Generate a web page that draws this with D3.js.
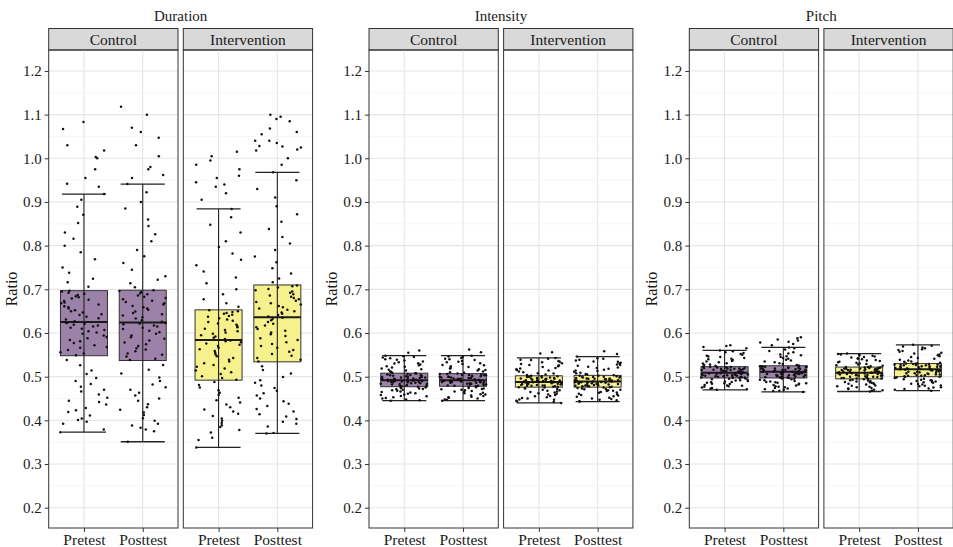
<!DOCTYPE html>
<html>
<head>
<meta charset="utf-8">
<script src="https://cdn.jsdelivr.net/npm/d3@7"></script>
<style>
  body { margin: 0; background: #fff; }
  svg text { font-family: "Liberation Serif", "Times New Roman", "DejaVu Serif", serif !important; fill: #1a1a1a; }
</style>
</head>
<body>
<div class="chart"></div>
<script>
var measures = ["Duration", "Intensity", "Pitch"];
var groups = ["Control", "Intervention"];
var times = ["Pretest", "Posttest"];
var yTicks = [0.2, 0.3, 0.4, 0.5, 0.6, 0.7, 0.8, 0.9, 1.0, 1.1, 1.2];
var yMinor = [0.25, 0.35, 0.45, 0.55, 0.65, 0.75, 0.85, 0.95, 1.05, 1.15];

// box stats, order: measure > group > time
var lowWhisker  = [.373, .351, .338, .370, .445, .445, .440, .443, .470, .465, .466, .468];
var q1          = [.548, .537, .492, .534, .477, .478, .476, .476, .497, .497, .495, .500];
var median      = [.625, .624, .584, .636, .492, .492, .488, .489, .509, .511, .509, .517];
var q3          = [.697, .698, .653, .710, .508, .507, .502, .503, .523, .525, .522, .530];
var highWhisker = [.918, .941, .884, .968, .548, .548, .543, .546, .560, .567, .553, .573];

// observed ratios (jittered points)
var durCtrlPre = [.373,.379,.392,.397,.401,.404,.411,.419,.423,.428,.436,.442,.445,.452,.459,.466,.47,.477,.483,.49,.497,.506,.514,.526,.538,
  .549,.553,.556,.561,.566,.568,.572,.577,.581,.584,.588,.591,.594,.598,.601,.604,.607,.61,.612,.615,.617,.619,.621,.623,.624,
  .627,.631,.634,.637,.641,.643,.647,.65,.652,.656,.659,.661,.665,.668,.67,.673,.676,.679,.682,.684,.687,.69,.692,.695,.697,
  .706,.716,.724,.738,.75,.769,.785,.8,.816,.83,.852,.871,.889,.905,.918,.935,.942,.955,.975,1.0,1.003,1.018,1.03,1.067,1.083];
var durCtrlPost = [.351,.375,.379,.383,.388,.392,.399,.405,.412,.418,.424,.43,.437,.445,.45,.457,.463,.47,.476,.482,.49,.498,.507,.516,.527,
  .538,.541,.546,.55,.553,.558,.562,.565,.57,.574,.578,.583,.587,.59,.594,.598,.602,.605,.609,.612,.615,.617,.62,.622,.623,
  .626,.629,.633,.636,.64,.643,.646,.649,.653,.656,.659,.662,.665,.668,.671,.674,.677,.68,.683,.686,.689,.691,.694,.696,.698,
  .705,.714,.722,.73,.745,.76,.776,.79,.81,.826,.845,.86,.885,.9,.922,.941,.955,.962,.975,.98,1.005,1.03,1.047,1.06,1.07,1.1,1.118];
var durIntPre = [.338,.355,.36,.372,.378,.385,.389,.394,.399,.404,.41,.415,.42,.425,.43,.436,.441,.446,.452,.458,.463,.469,.475,.481,.488,
  .493,.497,.501,.506,.51,.514,.519,.523,.527,.531,.535,.539,.543,.547,.551,.555,.559,.563,.566,.57,.573,.576,.579,.581,.583,
  .586,.589,.592,.595,.598,.601,.604,.607,.61,.613,.616,.619,.622,.625,.628,.631,.634,.637,.639,.642,.644,.646,.648,.65,.652,
  .66,.668,.677,.689,.7,.714,.727,.741,.755,.768,.782,.797,.81,.83,.848,.865,.884,.905,.92,.935,.94,.945,.955,.96,.975,.985,.995,1.005,1.015];
var durIntPost = [.37,.371,.386,.392,.397,.403,.409,.414,.42,.426,.433,.438,.444,.45,.457,.462,.468,.474,.48,.486,.492,.499,.507,.515,.524,
  .535,.539,.543,.548,.552,.557,.561,.566,.57,.575,.579,.584,.588,.593,.597,.601,.605,.609,.613,.617,.621,.625,.629,.632,.635,
  .638,.641,.644,.647,.65,.653,.656,.659,.662,.665,.668,.671,.674,.677,.68,.683,.686,.689,.692,.695,.698,.701,.704,.707,.709,
  .716,.725,.736,.748,.762,.775,.79,.805,.82,.838,.855,.872,.89,.91,.93,.95,.968,.985,1.0,1.018,1.02,1.025,1.027,1.028,1.035,1.04,1.04,1.055,1.06,1.068,1.085,1.09,1.095,1.1];

var intCtrlPre = [.445,.446,.448,.45,.451,.453,.455,.456,.458,.459,.461,.462,.464,.465,.466,.468,.469,.47,.471,.472,.473,.474,.475,.476,.477,
  .478,.479,.48,.48,.481,.482,.483,.483,.484,.485,.485,.486,.487,.487,.488,.488,.489,.489,.49,.49,.49,.491,.491,.492,.492,
  .493,.493,.494,.494,.495,.495,.496,.496,.497,.498,.498,.499,.499,.5,.5,.501,.502,.502,.503,.504,.504,.505,.506,.507,.508,
  .509,.511,.512,.514,.516,.517,.519,.521,.523,.524,.526,.528,.53,.531,.533,.535,.537,.539,.54,.542,.544,.545,.547,.548,.555,.56];
var intCtrlPost = [.445,.447,.448,.45,.452,.453,.454,.456,.457,.459,.46,.462,.463,.465,.466,.467,.469,.47,.471,.472,.473,.474,.476,.477,.478,
  .479,.479,.48,.481,.482,.482,.483,.484,.484,.485,.486,.486,.487,.487,.488,.488,.489,.489,.49,.49,.491,.491,.491,.492,.492,
  .493,.493,.494,.494,.495,.495,.496,.497,.497,.498,.498,.499,.5,.5,.501,.501,.502,.503,.503,.504,.504,.505,.506,.506,.507,
  .509,.51,.512,.514,.515,.517,.519,.52,.522,.524,.526,.527,.529,.531,.533,.534,.536,.538,.54,.541,.543,.545,.546,.548,.556,.562];
var intIntPre = [.44,.442,.443,.445,.447,.448,.45,.451,.453,.455,.456,.458,.459,.461,.462,.464,.465,.466,.468,.469,.47,.472,.473,.474,.475,
  .476,.477,.477,.478,.479,.479,.48,.48,.481,.481,.482,.482,.483,.483,.484,.484,.485,.485,.486,.486,.487,.487,.487,.488,.488,
  .489,.489,.49,.49,.491,.491,.492,.492,.493,.493,.494,.495,.495,.496,.496,.497,.497,.498,.498,.499,.5,.5,.501,.501,.502,
  .504,.505,.507,.508,.51,.512,.514,.515,.517,.519,.52,.522,.524,.526,.527,.529,.531,.533,.534,.536,.538,.539,.541,.543,.553,.556];
var intIntPost = [.443,.444,.446,.447,.449,.45,.452,.454,.455,.457,.458,.46,.461,.463,.464,.465,.467,.468,.469,.47,.471,.472,.473,.474,.475,
  .476,.477,.478,.478,.479,.479,.48,.48,.481,.482,.482,.483,.483,.484,.484,.485,.485,.486,.486,.487,.487,.488,.488,.488,.489,
  .489,.49,.49,.491,.491,.492,.492,.493,.494,.494,.495,.495,.496,.496,.497,.498,.498,.499,.499,.5,.5,.501,.502,.502,.503,
  .505,.506,.508,.509,.511,.513,.514,.516,.518,.52,.521,.523,.525,.527,.528,.53,.532,.534,.535,.537,.539,.541,.542,.546,.552,.558];

var pitCtrlPre = [.47,.471,.473,.474,.475,.477,.478,.479,.48,.481,.483,.484,.485,.486,.487,.488,.489,.49,.491,.492,.493,.494,.495,.496,.497,
  .497,.498,.498,.499,.499,.5,.5,.501,.501,.502,.502,.503,.503,.504,.504,.505,.505,.506,.506,.507,.507,.508,.508,.509,.509,
  .51,.51,.511,.512,.512,.513,.513,.514,.515,.515,.516,.516,.517,.518,.518,.519,.519,.52,.52,.521,.521,.522,.522,.523,.523,
  .525,.527,.528,.53,.531,.533,.535,.536,.538,.54,.541,.543,.545,.546,.548,.55,.552,.554,.556,.558,.56,.565,.568,.57,.572];
var pitCtrlPost = [.465,.467,.468,.47,.471,.473,.474,.476,.477,.478,.48,.481,.482,.484,.485,.486,.487,.488,.489,.49,.492,.493,.494,.495,.496,
  .497,.498,.498,.499,.5,.5,.501,.501,.502,.503,.503,.504,.504,.505,.506,.506,.507,.507,.508,.508,.509,.509,.51,.51,.511,
  .511,.512,.513,.513,.514,.514,.515,.516,.516,.517,.517,.518,.519,.519,.52,.52,.521,.522,.522,.523,.523,.524,.524,.525,.525,
  .527,.529,.531,.533,.535,.537,.539,.541,.543,.545,.547,.549,.551,.553,.556,.559,.562,.565,.567,.572,.575,.578,.58,.583,.585,.588,.59];
var pitIntPre = [.466,.468,.469,.47,.472,.473,.474,.476,.477,.478,.479,.48,.482,.483,.484,.485,.486,.487,.488,.489,.49,.491,.492,.493,.494,
  .495,.496,.496,.497,.497,.498,.499,.499,.5,.5,.501,.502,.502,.503,.503,.504,.505,.505,.506,.506,.507,.507,.508,.508,.509,
  .509,.51,.51,.511,.512,.512,.513,.513,.514,.515,.515,.516,.516,.517,.517,.518,.518,.519,.519,.52,.52,.521,.521,.522,.522,
  .524,.525,.526,.528,.529,.53,.532,.533,.534,.536,.537,.538,.54,.541,.542,.544,.545,.546,.548,.549,.55,.551,.552,.553];
var pitIntPost = [.468,.47,.472,.473,.475,.476,.478,.479,.48,.482,.483,.484,.486,.487,.488,.489,.49,.491,.492,.493,.494,.495,.497,.498,.499,
  .5,.501,.502,.502,.503,.504,.505,.505,.506,.507,.508,.508,.509,.51,.511,.511,.512,.513,.513,.514,.515,.515,.516,.516,.517,
  .517,.518,.518,.519,.52,.52,.521,.522,.522,.523,.523,.524,.524,.525,.526,.526,.527,.527,.528,.528,.529,.529,.53,.53,.53,
  .532,.534,.535,.537,.539,.541,.543,.545,.547,.549,.551,.553,.555,.557,.559,.561,.563,.565,.567,.569,.571,.573];

var pointSets = [durCtrlPre, durCtrlPost, durIntPre, durIntPost,
                 intCtrlPre, intCtrlPost, intIntPre, intIntPost,
                 pitCtrlPre, pitCtrlPost, pitIntPre, pitIntPost];

var fills = { Control: "#9c81a8", Intervention: "#f6f08d" };

var W = 953, H = 547;
var plotTop = 50, plotBottom = 528;
var facetW = 129.3, gap = 5.3, measureStep = 320.3, firstLeft = 48.7;
var serif = '"Liberation Serif", "Times New Roman", "DejaVu Serif", serif';

var svg = d3.select('.chart')
    .append('svg')
    .attr('width', W)
    .attr('height', H)
    .attr('font-family', serif)
    .style('display', 'block');

svg.append('rect').attr('width', W).attr('height', H).attr('fill', '#fff');

var y = d3.scaleLinear()
    .domain([0.1535, 1.248])
    .range([plotBottom, plotTop]);

var x = d3.scalePoint()
    .domain(times)
    .range([0, facetW])
    .padding(0.6);
var step = x.step();

// deterministic jitter offset in [-0.5, 0.5)
function jitter(i, k) {
  var s = Math.sin(i * 12.9898 + k * 78.233) * 43758.5453;
  return s - Math.floor(s) - 0.5;
}

measures.forEach(function(measure, m) {
  var left = firstLeft + m * measureStep;

  svg.append('text')
    .attr('x', left + facetW + gap / 2)
    .attr('y', 21)
    .attr('text-anchor', 'middle')
    .attr('font-family', serif)
    .style('font-size', '15px')
    .text(measure);

  svg.append('text')
    .attr('transform', 'translate(' + (left - 32) + ',' + ((plotTop + plotBottom) / 2) + ') rotate(-90)')
    .attr('text-anchor', 'middle')
    .attr('font-family', serif)
    .style('font-size', '16px')
    .text('Ratio');

  var yAxis = d3.axisLeft(y).tickValues(yTicks).tickFormat(d3.format('.1f')).tickSize(4).tickPadding(3);
  var ya = svg.append('g')
    .attr('transform', 'translate(' + left + ',0)')
    .call(yAxis)
    .attr('font-family', serif);
  ya.select('.domain').remove();
  ya.selectAll('line').attr('stroke', '#333');
  ya.selectAll('text').style('font-size', '15px').attr('fill', '#1a1a1a');

  groups.forEach(function(group, gi) {
    var fx = left + gi * (facetW + gap);
    var g = svg.append('g').attr('transform', 'translate(' + fx + ',0)');

    // strip
    g.append('rect')
      .attr('x', 0).attr('y', 28.5)
      .attr('width', facetW).attr('height', plotTop - 28.5)
      .attr('fill', '#d9d9d9').attr('stroke', '#333').attr('stroke-width', 1);
    g.append('text')
      .attr('x', facetW / 2).attr('y', 44.5)
      .attr('text-anchor', 'middle')
      .attr('font-family', serif)
      .style('font-size', '15.5px')
      .text(group);

    // grid
    g.selectAll('.minor').data(yMinor).enter().append('line')
      .attr('x1', 0).attr('x2', facetW)
      .attr('y1', function(d) { return y(d); }).attr('y2', function(d) { return y(d); })
      .attr('stroke', '#f2f2f2').attr('stroke-width', 0.6);
    g.selectAll('.major').data(yTicks).enter().append('line')
      .attr('x1', 0).attr('x2', facetW)
      .attr('y1', function(d) { return y(d); }).attr('y2', function(d) { return y(d); })
      .attr('stroke', '#e6e6e6').attr('stroke-width', 1.1);
    g.selectAll('.vgrid').data(times).enter().append('line')
      .attr('x1', function(d) { return x(d); }).attr('x2', function(d) { return x(d); })
      .attr('y1', plotTop).attr('y2', plotBottom)
      .attr('stroke', '#e6e6e6').attr('stroke-width', 1.1);

    times.forEach(function(time, ti) {
      var k = m * 4 + gi * 2 + ti;
      var cx = x(time);
      var bw = step * 0.8, cw = step * 0.75;

      g.append('rect')
        .attr('x', cx - bw / 2).attr('width', bw)
        .attr('y', y(q3[k])).attr('height', y(q1[k]) - y(q3[k]))
        .attr('fill', fills[group]).attr('stroke', '#333').attr('stroke-width', 1);

      // whisker bar with caps
      g.append('line')
        .attr('x1', cx).attr('x2', cx)
        .attr('y1', y(lowWhisker[k])).attr('y2', y(highWhisker[k]))
        .attr('stroke', '#222').attr('stroke-width', 1.1);
      [lowWhisker[k], highWhisker[k]].forEach(function(v) {
        g.append('line')
          .attr('x1', cx - cw / 2).attr('x2', cx + cw / 2)
          .attr('y1', y(v)).attr('y2', y(v))
          .attr('stroke', '#222').attr('stroke-width', 1.3);
      });
      g.append('line')
        .attr('x1', cx - bw / 2).attr('x2', cx + bw / 2)
        .attr('y1', y(median[k])).attr('y2', y(median[k]))
        .attr('stroke', '#1a1a1a').attr('stroke-width', 2);

      g.append('g').selectAll('circle')
        .data(pointSets[k])
        .enter().append('circle')
        .attr('cx', function(d, i) { return cx + jitter(i, k) * bw; })
        .attr('cy', function(d) { return y(d); })
        .attr('r', 1.25)
        .attr('fill', '#111');
    });

    // panel border
    g.append('rect')
      .attr('x', 0).attr('y', plotTop)
      .attr('width', facetW).attr('height', plotBottom - plotTop)
      .attr('fill', 'none').attr('stroke', '#333').attr('stroke-width', 1);

    var xa = g.append('g')
      .attr('transform', 'translate(0,' + plotBottom + ')')
      .call(d3.axisBottom(x).tickSize(4).tickPadding(2))
      .attr('font-family', serif);
    xa.select('.domain').remove();
    xa.selectAll('line').attr('stroke', '#333');
    xa.selectAll('text').style('font-size', '15.5px').attr('fill', '#1a1a1a');
  });
});
</script>
</body>
</html>
